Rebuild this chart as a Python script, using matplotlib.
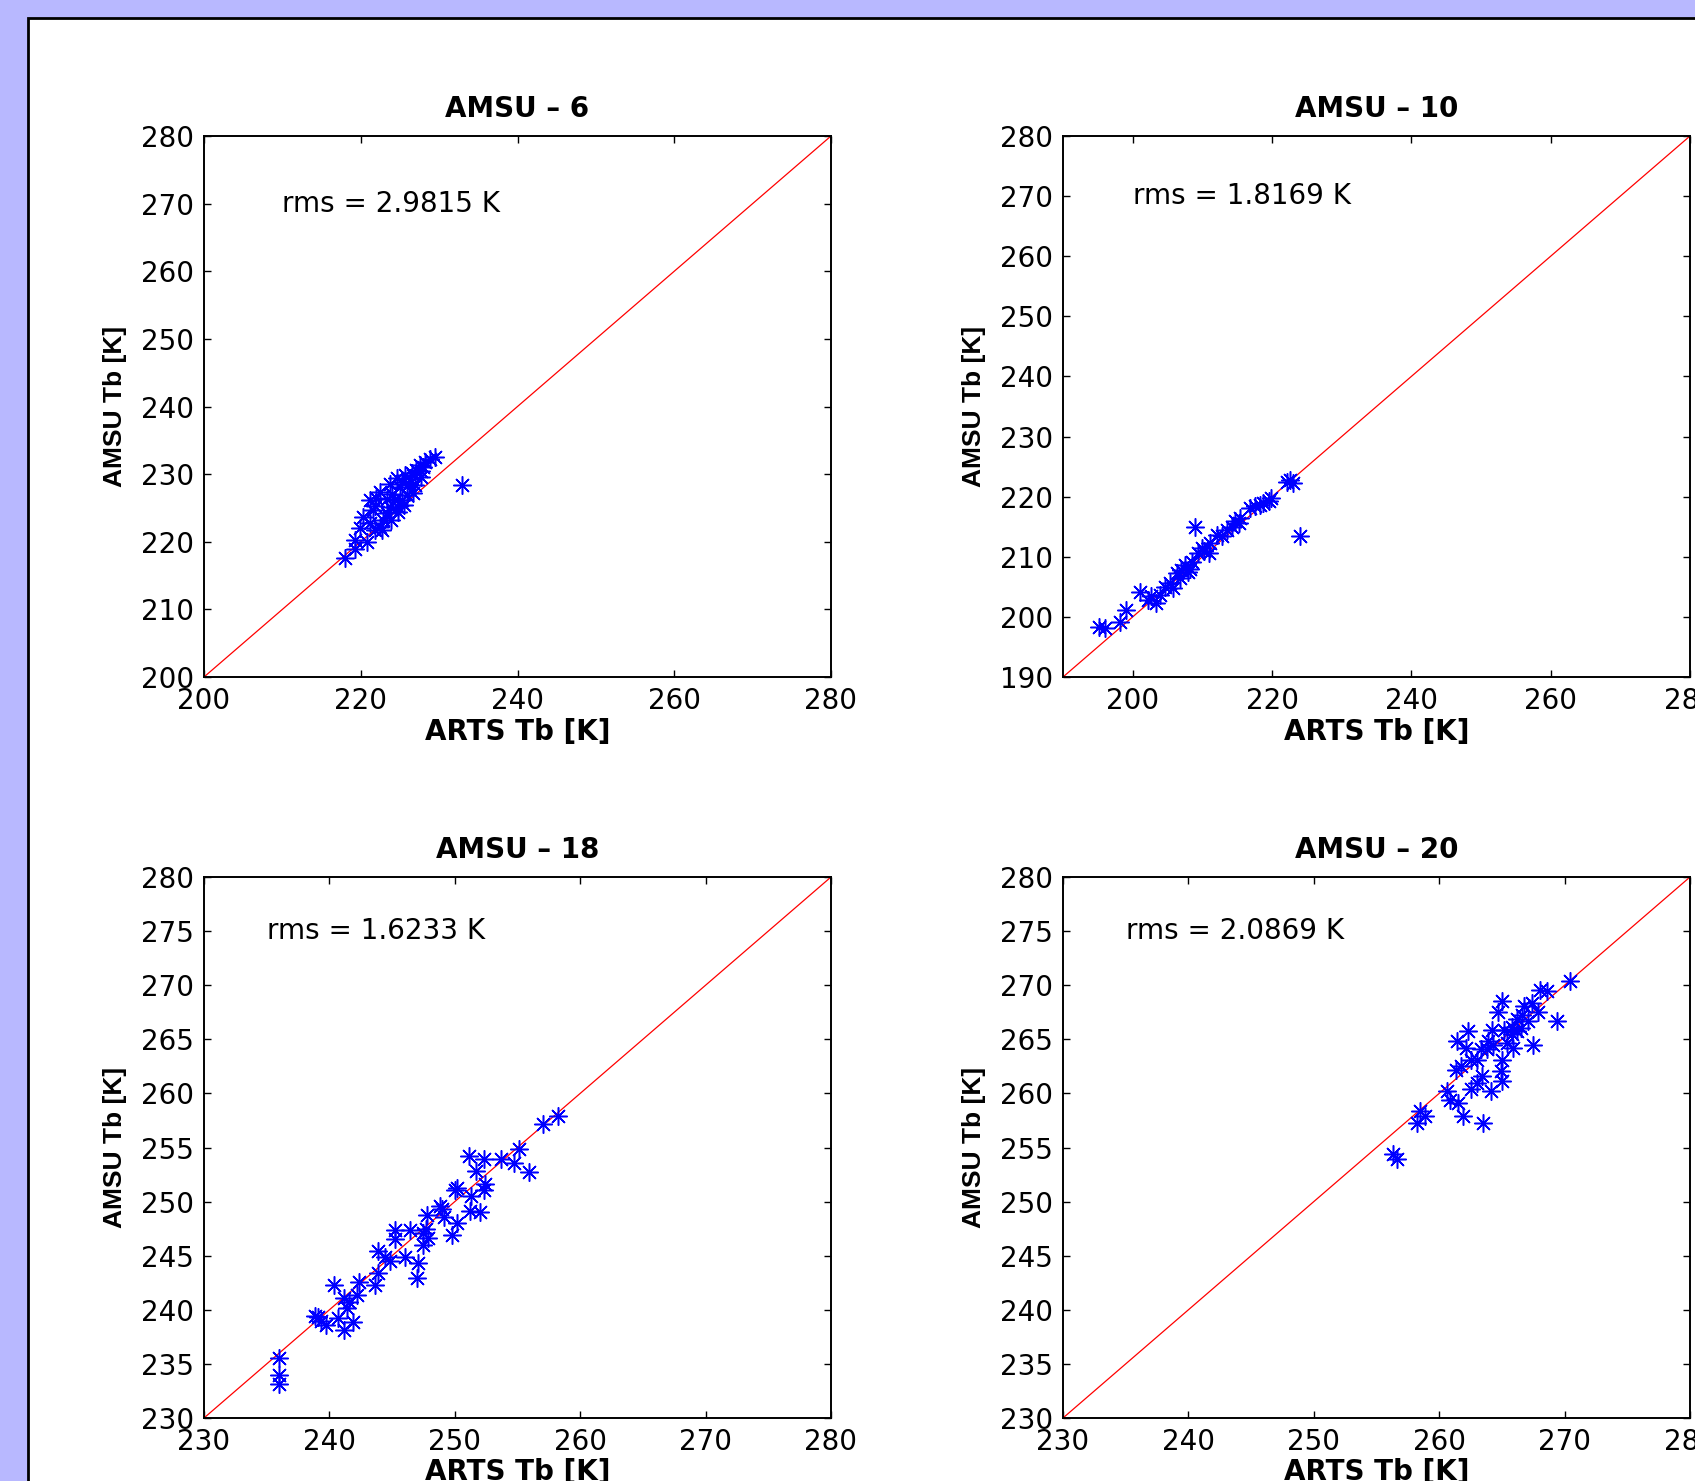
import matplotlib
matplotlib.use("Agg")
import matplotlib.pyplot as plt
from matplotlib.patches import Rectangle

plt.rcParams['font.family'] = ['DejaVu Sans']

# ---------------- data ----------------
titles = ["AMSU – 6", "AMSU – 10", "AMSU – 18", "AMSU – 20"]
rms_texts = ["rms = 2.9815 K", "rms = 1.8169 K", "rms = 1.6233 K", "rms = 2.0869 K"]

# AMSU-6
arts6 = [218.0, 219.3, 219.3, 220.8, 219.9, 220.3, 221.2, 221.6, 221.2, 222.0,
         222.7, 222.4, 222.9, 223.3, 223.7, 223.9, 224.4, 224.8, 225.2, 223.7,
         224.6, 225.6, 225.0, 226.1, 226.5, 225.9, 226.7, 226.9, 227.1, 227.6,
         228.2, 228.8, 229.5, 227.7, 232.9, 225.5, 224.8, 223.3, 227.7, 228.0,
         221.8, 222.5, 221.8, 224.0, 225.3, 226.3]
amsu6 = [217.6, 219.0, 220.3, 220.0, 222.0, 223.7, 222.7, 224.7, 226.2, 226.4,
         221.7, 222.2, 223.2, 224.2, 225.2, 223.2, 226.2, 224.4, 226.2, 228.6,
         229.4, 229.9, 228.1, 228.6, 230.1, 226.9, 227.2, 228.4, 230.6, 231.3,
         231.8, 232.3, 232.6, 229.6, 228.4, 225.4, 225.2, 226.3, 230.4, 231.0,
         225.3, 227.4, 221.7, 227.0, 228.9, 229.3]

# AMSU-10
arts10 = [195.1, 196.0, 198.2, 199.1, 201.1, 202.2, 202.7, 203.4, 203.9, 204.6,
          205.4, 205.8, 206.3, 207.0, 207.5, 207.9, 208.5, 208.9, 209.4, 209.9,
          210.9, 211.1, 212.1, 212.8, 213.5, 214.2, 214.7, 215.2, 215.4, 216.8,
          217.6, 218.3, 218.7, 219.5, 219.9, 224.0, 222.2, 222.6, 223.0, 206.8,
          208.2, 210.3]
amsu10 = [198.4, 198.1, 199.2, 201.1, 204.2, 202.8, 203.4, 202.3, 203.6, 205.0,
          205.6, 204.8, 207.3, 207.8, 208.6, 207.5, 209.2, 215.0, 210.6, 211.4,
          210.6, 212.3, 213.6, 213.4, 214.5, 215.0, 215.9, 215.6, 216.4, 218.1,
          218.4, 218.6, 218.9, 219.2, 219.7, 213.5, 222.4, 222.7, 222.3, 206.5,
          208.0, 211.0]

# AMSU-18
arts18 = [236.0, 236.0, 236.0, 238.85, 239.1, 239.3, 239.7, 240.4, 240.7, 241.2,
          241.4, 241.2, 241.6, 241.9, 242.2, 242.4, 243.6, 243.9, 243.9, 244.4,
          244.8, 245.2, 245.2, 246.0, 246.4, 247.1, 247.0, 247.5, 247.5, 247.8,
          247.9, 248.8, 249.1, 249.8, 250.2, 250.0, 250.2, 251.1, 251.2, 252.0,
          251.3, 251.7, 252.3, 252.3, 252.4, 253.7, 254.7, 255.1, 255.9, 257.0,
          258.2, 247.7, 249.0]
amsu18 = [235.5, 234.0, 233.1, 239.4, 239.3, 239.0, 238.6, 242.3, 239.2, 238.1,
          240.2, 241.1, 240.7, 238.9, 241.4, 242.6, 242.3, 243.4, 245.4, 244.9,
          244.5, 247.4, 246.5, 244.9, 247.4, 244.3, 242.9, 247.1, 246.0, 248.8,
          246.6, 249.6, 248.6, 246.9, 248.0, 251.1, 251.3, 254.2, 249.1, 249.0,
          250.5, 252.8, 253.9, 251.1, 251.6, 253.9, 253.6, 254.9, 252.7, 257.2,
          257.9, 247.5, 249.3]

# AMSU-20
arts20 = [256.3, 256.6, 258.5, 258.2, 258.9, 260.6, 260.9, 261.5, 261.9, 263.5,
          261.4, 262.3, 262.1, 261.3, 261.7, 262.5, 262.5, 263.0, 263.4, 264.1,
          263.3, 263.8, 264.3, 264.2, 264.7, 265.0, 265.0, 264.9, 265.0, 265.4,
          265.2, 265.8, 265.9, 266.2, 266.6, 266.8, 267.1, 267.5, 267.4, 267.9,
          268.0, 268.6, 269.4, 270.4, 265.8, 266.2, 266.5, 263.0, 263.9]
amsu20 = [254.4, 253.9, 258.4, 257.3, 257.9, 260.2, 259.4, 259.1, 257.9, 257.3,
          264.8, 265.8, 264.2, 262.2, 262.5, 263.1, 260.4, 261.0, 261.6, 260.2,
          264.1, 264.1, 264.5, 265.9, 267.5, 268.5, 263.1, 262.1, 261.1, 264.7,
          265.9, 266.1, 264.2, 266.9, 267.2, 268.1, 266.7, 264.5, 268.4, 267.5,
          269.6, 269.5, 266.7, 270.4, 265.5, 265.8, 266.0, 263.1, 264.8]

series_x = [arts6, arts10, arts18, arts20]
series_y = [amsu6, amsu10, amsu18, amsu20]

limits = [(200, 280), (190, 280), (230, 280), (230, 280)]
xticks = [[200, 220, 240, 260, 280], [200, 220, 240, 260, 280],
          [230, 240, 250, 260, 270, 280], [230, 240, 250, 260, 270, 280]]
yticks = [[200, 210, 220, 230, 240, 250, 260, 270, 280],
          [190, 200, 210, 220, 230, 240, 250, 260, 270, 280],
          [230, 235, 240, 245, 250, 255, 260, 265, 270, 275, 280],
          [230, 235, 240, 245, 250, 255, 260, 265, 270, 275, 280]]
text_pos = [(210, 270), (200, 270), (235, 275), (235, 275)]

# ---------------- figure ----------------
W, H = 1695, 1481
fig = plt.figure(figsize=(W / 100, H / 100), dpi=100)
fig.patch.set_facecolor('#b8b8ff')

# white slide panel with black border (behind the axes)
fig.patches.append(Rectangle((28 / W, -0.1), 1.2, 1 - 18 / H + 0.1,
                             transform=fig.transFigure, facecolor='white',
                             edgecolor='black', linewidth=2.0, zorder=-5))

ax_w = 627 / W
ax_h = 541 / H
lefts = [204 / W, 1063 / W, 204 / W, 1063 / W]
bottoms = [(H - 677) / H, (H - 677) / H, (H - 1418) / H, (H - 1418) / H]

for i in range(4):
    ax = fig.add_axes([lefts[i], bottoms[i], ax_w, ax_h])
    lo, hi = limits[i]
    ax.plot([lo, hi], [lo, hi], color='#ff0000', linewidth=0.9, zorder=2)
    ax.plot(series_x[i], series_y[i], linestyle='none', marker=(8, 2, 0),
            markersize=13, markeredgewidth=1.1, color='#0000ff', zorder=3,
            clip_on=False)
    ax.set_xlim(lo, hi)
    ax.set_ylim(lo, hi)
    ax.set_xticks(xticks[i])
    ax.set_yticks(yticks[i])
    ax.tick_params(direction='in', length=5, width=1.0, top=True, right=True,
                   labelsize=20, colors='black')
    ax.tick_params(axis='x', pad=7)
    ax.tick_params(axis='y', pad=7)
    for s in ax.spines.values():
        s.set_linewidth(1.4)
    ax.set_title(titles[i], fontsize=20, fontweight='bold', pad=14)
    ax.set_xlabel('ARTS Tb [K]', fontsize=20, fontweight='bold', labelpad=2)
    ax.set_ylabel('AMSU Tb [K]', fontsize=19, fontweight='bold', labelpad=10,
                  family=['Liberation Sans', 'DejaVu Sans'])
    tx, ty = text_pos[i]
    ax.text(tx, ty, rms_texts[i], fontsize=20, ha='left', va='center')

fig.savefig('out.png', dpi=100, facecolor=fig.get_facecolor())
